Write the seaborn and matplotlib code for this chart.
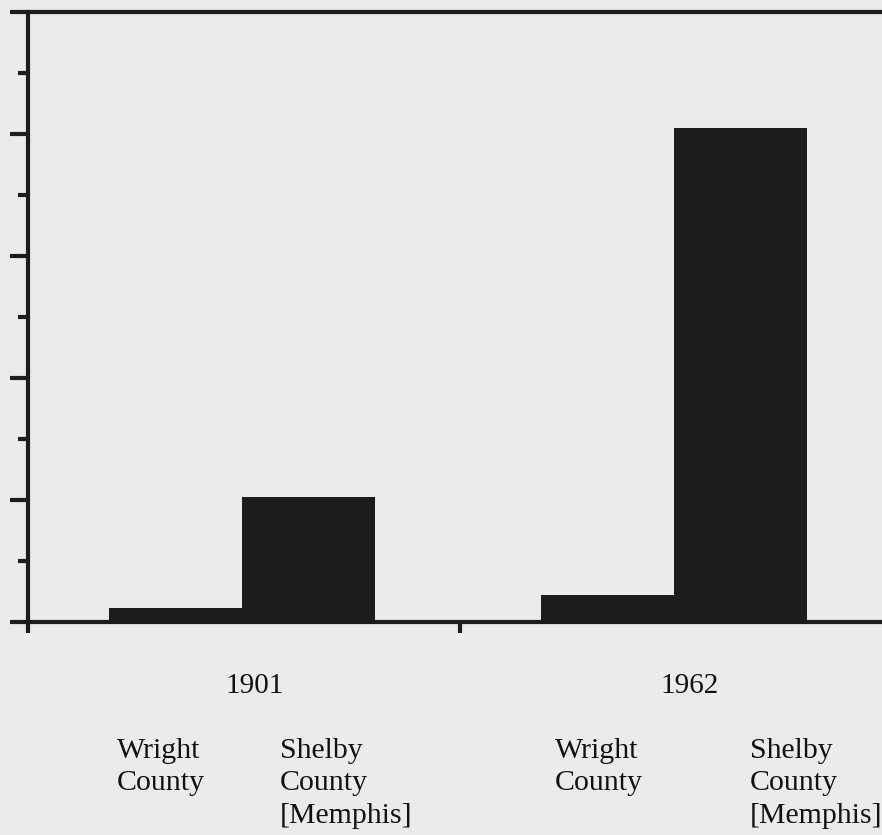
import numpy as np
import pandas as pd
import matplotlib
matplotlib.use("Agg")
import matplotlib.pyplot as plt
import seaborn as sns
from matplotlib.ticker import MultipleLocator

# ---------------- Data ----------------
years = ["1901", "1901", "1962", "1962"]
counties = ["Wright County", "Shelby County [Memphis]", "Wright County", "Shelby County [Memphis]"]
values = [0.23, 2.05, 0.44, 8.1]

year_labels = ["1901", "1962"]
county_labels = ["Wright\nCounty", "Shelby\nCounty\n[Memphis]"]

df = pd.DataFrame({"year": years, "county": counties, "value": values})

# ---------------- Style ----------------
sns.set_theme(style="white")
plt.rcParams["font.family"] = ["Liberation Serif", "DejaVu Serif"]
BG = "#ebebeb"
INK = "#1c1c1c"
X0 = -0.495  # left edge of the x view

fig = plt.figure(figsize=(8.82, 8.35), dpi=100, facecolor=BG)
ax = fig.add_axes([28 / 882, 213 / 835, 854 / 882, 610 / 835])
ax.set_facecolor(BG)

sns.barplot(data=df, x="year", y="value", hue="county", ax=ax,
            palette=[INK, INK], saturation=1, width=0.615,
            edgecolor="none", linewidth=0, legend=False)

# axes / spines
for side in ["left", "bottom", "top"]:
    ax.spines[side].set_visible(True)
    ax.spines[side].set_linewidth(3)
    ax.spines[side].set_color(INK)
ax.spines["right"].set_visible(False)

ax.yaxis.set_major_locator(MultipleLocator(2))
ax.yaxis.set_minor_locator(MultipleLocator(1))
ax.tick_params(axis="y", which="major", direction="out", length=13, width=3,
               color=INK, labelleft=False, left=True)
ax.tick_params(axis="y", which="minor", direction="out", length=7, width=3,
               color=INK, left=True)
ax.set_xticks([X0, 0.505])
ax.tick_params(axis="x", which="major", direction="out", length=8, width=3,
               color=INK, labelbottom=False, bottom=True)
ax.set_xlabel("")
ax.set_ylabel("")

# limits after the ticks, so set_xticks does not widen the view
ax.set_xlim(X0, X0 + 854 / 432)
ax.set_ylim(0, 10)

# category text under the axis
tr = ax.get_xaxis_transform()
for gx, lab in zip([0.03, 1.037], year_labels):
    ax.text(gx, -0.105, lab, transform=tr, ha="center", va="center",
            fontsize=21, color="#111111")
for gx in [-0.289, 0.725]:
    ax.text(gx, -0.19, county_labels[0], transform=tr, ha="left", va="top",
            fontsize=21.5, color="#111111", linespacing=1.32)
for gx in [0.088, 1.176]:
    ax.text(gx, -0.19, county_labels[1], transform=tr, ha="left", va="top",
            fontsize=21.5, color="#111111", linespacing=1.32)

fig.savefig("out.png", dpi=100, facecolor=BG)
